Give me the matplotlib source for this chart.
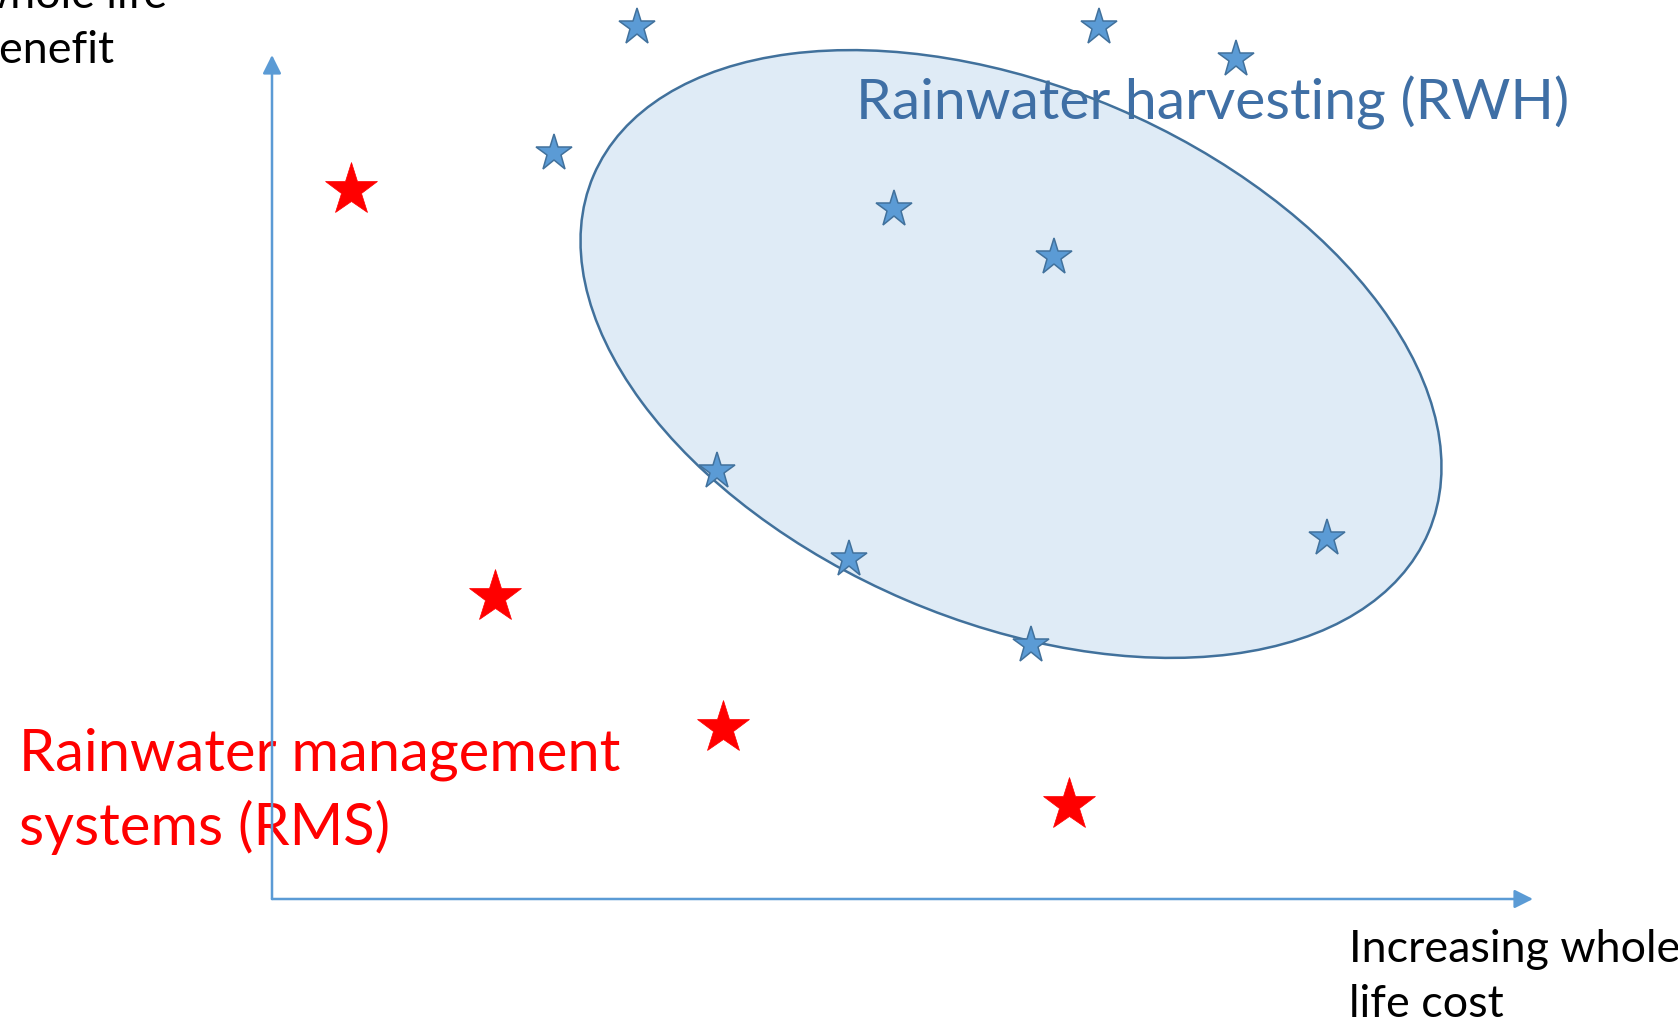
import matplotlib.pyplot as plt
from matplotlib.patches import Ellipse

# data units: whole life cost (x) vs whole life benefit (y), arbitrary scale
rwh_cost = [3.63, 8.25, 9.62, 2.80, 6.20, 7.80, 4.43, 5.75, 7.57, 10.53]
rwh_benefit = [8.72, 8.72, 8.40, 7.46, 6.90, 6.42, 4.28, 3.40, 2.54, 3.61]

rms_cost = [0.77, 2.21, 4.49, 7.95]
rms_benefit = [7.09, 3.02, 1.71, 0.94]

rwh_label = "Rainwater harvesting (RWH)"
rms_label = "Rainwater management\nsystems (RMS)"
x_label = "Increasing whole\nlife cost"
y_label = "Increasing\nwhole life\nbenefit"

plt.rcParams['font.family'] = ['Lato', 'DejaVu Sans']

fig = plt.figure(figsize=(16.78, 10.30), dpi=100)
ax = fig.add_axes([0, 0, 1, 1])
ax.set_xlim(-2.74, 14.04)
ax.set_ylim(-1.31, 8.99)
ax.axis('off')

# cluster ellipse around the RWH options
ell_fill = Ellipse((7.37, 5.45), 9.08, 5.35, angle=-23.15,
                   facecolor='#DFEBF6', edgecolor='none', zorder=1)
ell_edge = Ellipse((7.37, 5.45), 9.08, 5.35, angle=-23.15,
                   facecolor='none', edgecolor='#41719C', lw=1.8, zorder=3)
ax.add_patch(ell_fill)
ax.add_patch(ell_edge)

# axes arrows
arrow = dict(arrowstyle='-|>', color='#5B9BD5', lw=1.8, mutation_scale=28,
             shrinkA=0, shrinkB=0)
ax.annotate('', xy=(12.59, 0), xytext=(-0.02, 0), arrowprops=arrow, zorder=3)
ax.annotate('', xy=(-0.02, 8.44), xytext=(-0.02, 0), arrowprops=arrow, zorder=3)

ax.plot(rwh_cost, rwh_benefit, ls='none', marker='*', ms=28,
        mfc='#5B9BD5', mec='#41719C', mew=1.1, zorder=4, clip_on=False)
ax.plot(rms_cost, rms_benefit, ls='none', marker='*', ms=40,
        mfc='#FF0000', mec='#FF0000', mew=0.5, zorder=4, clip_on=False)

# labels (va='baseline' pins the last line)
ax.text(5.82, 7.79, rwh_label, color='#3F6FA5', fontsize=41,
        va='baseline', ha='left', zorder=2)
ax.text(-2.55, 0.54, rms_label, color='#FF0000', fontsize=41.7,
        va='baseline', ha='left', linespacing=1.42, zorder=2)
ax.text(10.75, -1.18, x_label, color='black', fontsize=32.3,
        va='baseline', ha='left', linespacing=1.42, zorder=2)
ax.text(-2.99, 8.36, y_label, color='black', fontsize=32.3,
        va='baseline', ha='left', linespacing=1.42, zorder=2)

fig.savefig('out.png', dpi=100)
